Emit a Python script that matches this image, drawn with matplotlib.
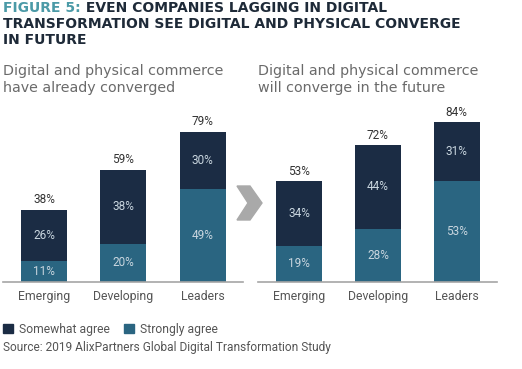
import matplotlib
matplotlib.use('Agg')
from matplotlib import pyplot as plt
from matplotlib.patches import Patch, Polygon

categories = ['Emerging', 'Developing', 'Leaders']
already_strongly = [11, 20, 49]
already_somewhat = [26, 38, 30]
already_total = [38, 59, 79]
future_strongly = [19, 28, 53]
future_somewhat = [34, 44, 31]
future_total = [53, 72, 84]

navy = '#1b2c44'
teal = '#2a6581'
inner = '#c9d6df'
grey = '#555555'

W, H = 522, 369
plt.rcParams['font.family'] = ['Roboto', 'DejaVu Sans']

fig = plt.figure(figsize=(W / 100, H / 100), dpi=100)

def fx(px):
    return px / W

def fy(py):
    return 1 - py / H

def panel(ax, strongly, somewhat, total):
    xs = range(len(categories))
    ax.bar(xs, total, width=0.58, color=navy)
    ax.bar(xs, strongly, width=0.58, color=teal)
    for i in xs:
        ax.text(i, strongly[i] / 2, f'{strongly[i]}%', ha='center', va='center',
                color=inner, fontsize=8.5)
        ax.text(i, (strongly[i] + total[i]) / 2, f'{somewhat[i]}%', ha='center',
                va='center', color=inner, fontsize=8.5)
        ax.text(i, total[i] + 1.8, f'{total[i]}%', ha='center', va='bottom',
                color='#333333', fontsize=8.5)
    ax.set_xlim(-0.52, 2.51)
    ax.set_ylim(0, 100)
    ax.set_xticks(list(xs))
    ax.set_xticklabels(categories, fontsize=8.8, color=grey)
    ax.tick_params(axis='x', length=0, pad=6)
    ax.set_yticks([])
    for s in ['left', 'right', 'top']:
        ax.spines[s].set_visible(False)
    ax.spines['bottom'].set_color('#a5a5a5')
    ax.spines['bottom'].set_linewidth(1.2)
    ax.patch.set_alpha(0)

bottom = fy(282)
height = 190 / H
ax1 = fig.add_axes([fx(3), bottom, 240 / W, height])
ax2 = fig.add_axes([fx(258), bottom, 239 / W, height])
panel(ax1, already_strongly, already_somewhat, already_total)
panel(ax2, future_strongly, future_somewhat, future_total)

# chevron between panels
chev = [(237, 186), (250, 186), (262, 203), (250, 220), (237, 220), (248, 203)]
fig.patches.append(Polygon([(fx(a), fy(b)) for a, b in chev], closed=True,
                           transform=fig.transFigure, color='#a9a9a9'))

# title
tfont = dict(family='DejaVu Sans', fontweight='bold', fontsize=10.0)
t = fig.text(fx(3), fy(8.5), 'FIGURE 5:', color='#4b9aa7', va='center', **tfont)
ax1.annotate(' EVEN COMPANIES LAGGING IN DIGITAL', xy=(1, 0.5), xycoords=t,
             va='center', ha='left', color='#1e2a38', **tfont)
fig.text(fx(3), fy(23.5), 'TRANSFORMATION SEE DIGITAL AND PHYSICAL CONVERGE',
         color='#1e2a38', va='center', **tfont)
fig.text(fx(3), fy(39.5), 'IN FUTURE', color='#1e2a38', va='center', **tfont)

# subtitles
sfont = dict(family='DejaVu Sans', fontsize=10.3, color='#6a6a6a', va='center')
fig.text(fx(3), fy(71), 'Digital and physical commerce', **sfont)
fig.text(fx(3), fy(88), 'have already converged', **sfont)
fig.text(fx(258), fy(71), 'Digital and physical commerce', **sfont)
fig.text(fx(258), fy(88), 'will converge in the future', **sfont)

# legend and source
handles = [Patch(color=navy, label='Somewhat agree'),
           Patch(color=teal, label='Strongly agree')]
fig.legend(handles=handles, loc='center left', bbox_to_anchor=(fx(3), fy(329)),
           ncol=2, frameon=False, handlelength=0.8, handleheight=0.8,
           handletextpad=0.5, columnspacing=1.2, borderaxespad=0, borderpad=0,
           prop={'size': 8.7}, labelcolor=grey)
fig.text(fx(3), fy(347), 'Source: 2019 AlixPartners Global Digital Transformation Study',
         fontsize=8.6, color=grey, va='center')

fig.savefig('out.png', dpi=100)
